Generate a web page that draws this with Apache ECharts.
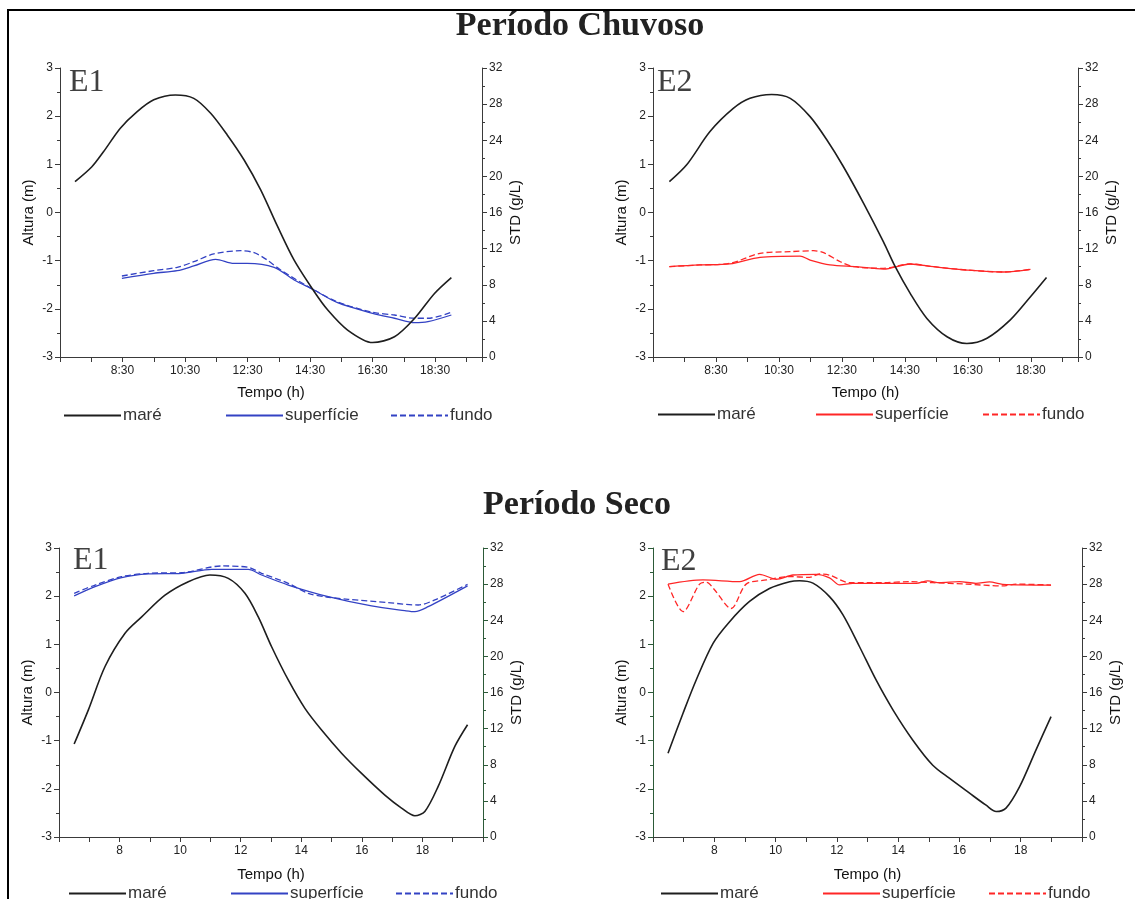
<!DOCTYPE html>
<html><head><meta charset="utf-8">
<script src="https://cdn.jsdelivr.net/npm/echarts@6/dist/echarts.min.js"></script>
<style>html,body{margin:0;padding:0;background:#fff}#c{width:1135px;height:899px}</style>
</head><body><div id="c"></div>
<script>
// ---- Data (time in decimal hours; maré in m; STD in g/L) ----
const mareChuvosoE1 = [[6.98,0.64],[7.52,0.95],[7.89,1.26],[8.43,1.75],[8.96,2.09],[9.5,2.34],[10.19,2.44],[10.78,2.37],[11.32,2.06],[11.85,1.61],[12.39,1.09],[12.92,0.47],[13.46,-0.29],[13.99,-0.99],[14.63,-1.64],[15.06,-2.02],[15.7,-2.44],[16.5,-2.70],[17.2,-2.58],[17.84,-2.20],[18.48,-1.68],[19.02,-1.35]];
const supChuvosoE1 = [[8.48,8.71],[9.5,9.27],[10.25,9.56],[10.78,10.08],[11.48,10.82],[12.06,10.37],[12.49,10.37],[13.35,9.93],[13.99,8.53],[14.63,7.42],[15.38,6.01],[16.5,4.84],[17.2,4.29],[17.84,3.8],[18.27,3.91],[19.02,4.65]];
const fundoChuvosoE1 = [[8.48,8.97],[9.5,9.56],[10.25,9.93],[10.78,10.55],[11.42,11.41],[12.28,11.77],[12.71,11.55],[13.13,10.74],[13.56,9.63],[14.63,7.42],[15.38,6.1],[16.5,4.95],[17.2,4.65],[17.84,4.29],[18.27,4.29],[19.02,4.95]];

const mareChuvosoE2 = [[7.02,0.64],[7.57,0.99],[8.31,1.68],[9.05,2.16],[9.58,2.37],[10.27,2.45],[10.86,2.37],[11.49,1.99],[12.02,1.51],[12.55,0.95],[13.19,0.19],[13.82,-0.61],[14.19,-1.12],[14.67,-1.68],[15.2,-2.2],[15.84,-2.58],[16.47,-2.72],[17.11,-2.61],[17.85,-2.23],[18.49,-1.75],[19.0,-1.35]];
const supChuvosoE2 = [[7.02,10.0],[7.99,10.19],[8.94,10.3],[9.9,11.04],[11.17,11.18],[11.49,10.74],[12.12,10.19],[12.97,10.0],[13.82,9.74],[14.67,10.3],[15.41,10.0],[16.47,9.63],[17.64,9.41],[18.49,9.71]];
const fundoChuvosoE2 = [[7.02,10.0],[7.99,10.19],[8.94,10.37],[9.9,11.48],[10.85,11.66],[11.6,11.77],[11.92,11.55],[12.45,10.55],[12.88,10.0],[13.82,9.82],[14.67,10.3],[15.41,10.0],[16.47,9.63],[17.64,9.41],[18.49,9.71]];

const mareSecoE1 = [[6.5,-1.07],[6.97,-0.36],[7.52,0.54],[8.18,1.23],[8.73,1.57],[9.5,2.02],[10.27,2.30],[10.98,2.44],[11.59,2.37],[12.14,2.06],[12.58,1.57],[13.02,0.95],[13.57,0.26],[14.12,-0.33],[14.67,-0.78],[15.33,-1.26],[15.99,-1.68],[16.76,-2.13],[17.31,-2.40],[17.75,-2.56],[18.08,-2.47],[18.52,-1.95],[19.07,-1.12],[19.49,-0.67]];
const supSecoE1 = [[6.5,26.69],[7.19,27.72],[8.07,28.72],[8.95,29.13],[10.05,29.2],[11.04,29.64],[12.25,29.64],[12.69,29.01],[13.57,27.9],[14.89,26.61],[16.32,25.58],[17.42,25.06],[17.75,24.95],[18.19,25.5],[19.49,27.8]];
const fundoSecoE1 = [[6.5,26.98],[7.19,27.9],[8.07,28.83],[8.95,29.2],[10.05,29.27],[11.37,30.01],[12.25,29.86],[12.69,29.2],[13.57,28.09],[14.23,26.98],[14.78,26.61],[15.55,26.32],[16.87,25.95],[17.86,25.69],[18.41,26.25],[19.49,27.98]];

const mareSecoE2 = [[6.49,-1.26],[6.98,-0.43],[7.41,0.26],[7.96,1.02],[8.5,1.47],[9.15,1.89],[9.8,2.16],[10.46,2.30],[10.78,2.32],[11.22,2.27],[11.76,1.99],[12.2,1.61],[12.74,0.95],[13.28,0.26],[13.83,-0.36],[14.48,-0.99],[15.13,-1.51],[15.67,-1.78],[16.33,-2.09],[16.87,-2.34],[17.2,-2.47],[17.52,-2.40],[17.96,-1.96],[18.5,-1.19],[18.99,-0.50]];
const supSecoE2 = [[6.49,28.0],[7.63,28.46],[8.83,28.27],[9.48,29.09],[10.02,28.54],[10.57,29.01],[11.33,29.09],[11.76,28.7],[12.09,27.91],[12.52,28.09],[13.5,28.09],[14.59,28.09],[14.97,28.35],[15.35,28.16],[16.0,28.27],[16.54,28.09],[16.98,28.24],[17.41,27.98],[18.99,27.9]];
const fundoSecoE2 = [[6.49,28.0],[6.98,24.95],[7.52,28.0],[7.75,28.2],[8.0,27.4],[8.55,25.3],[9.04,28.0],[9.7,28.46],[10.46,28.83],[11.11,28.75],[11.43,29.12],[11.76,29.0],[12.41,28.16],[13.5,28.16],[14.37,28.27],[15.13,28.16],[16.22,28.0],[17.41,27.8],[17.85,28.0],[18.99,27.9]];

const chuvosoTickHours = [8.5,10.5,12.5,14.5,16.5,18.5];
const chuvosoTickLabels = ['8:30','10:30','12:30','14:30','16:30','18:30'];
const secoTickHours = [8,10,12,14,16,18];
const secoTickLabels = ['8','10','12','14','16','18'];
const legendNames = ['maré','superfície','fundo'];
const panelLabels = ['E1','E2','E1','E2'];
const periodTitles = ['Período Chuvoso','Período Seco'];

// ---- Chart ----
const CHUVOSO_ORIGIN = 6.5; // top panels: axis counts hours from 6:30
const chart = echarts.init(document.getElementById('c'), null, {renderer:'canvas'});
const FONT = 'Liberation Sans, Arial, sans-serif';
const BLUE = '#3342c4', RED = '#ff2626', BLACK = '#1e1e1e';
const GREEN = '#2c5a38', AXIS = '#3a3a3a';

const grids = [
  {left:60, top:68, width:422, height:289},
  {left:653, top:68, width:425, height:289},
  {left:59, top:548, width:424, height:289},
  {left:653, top:548, width:429, height:289}
].map(g => Object.assign({outerBoundsMode:'none', containLabel:false}, g));

function xAxisFor(i){
  const top = i < 2;
  return {
    type:'value', gridIndex:i,
    min: top ? 0 : 6, max: top ? 13.5 : 20, interval:1,
    axisLine:{show:true, onZero:false, lineStyle:{color:AXIS, width:1}},
    axisTick:{show:true, length:5, lineStyle:{color:AXIS}},
    splitLine:{show:false},
    axisLabel:{fontSize:12, color:'#222', fontFamily:FONT, margin:8, showMinLabel:true, showMaxLabel:true,
      formatter: v => {
        if (top) { const k = chuvosoTickHours.indexOf(Math.round((v + CHUVOSO_ORIGIN)*100)/100); return k >= 0 ? chuvosoTickLabels[k] : ''; }
        const k = secoTickHours.indexOf(Math.round(v*100)/100); return k >= 0 ? secoTickLabels[k] : '';
      }},
    name:'Tempo (h)', nameLocation:'middle', nameGap: top ? 28 : 30,
    nameTextStyle:{fontSize:15, color:'#111', fontFamily:FONT}
  };
}
function yLeft(i){
  const c = i === 3 ? GREEN : AXIS;
  return {
    type:'value', gridIndex:i, position:'left', min:-3, max:3, interval:1,
    axisLine:{show:true, onZero:false, lineStyle:{color:c, width:1}},
    axisTick:{show:true, length:5, lineStyle:{color:c}},
    minorTick:{show:true, splitNumber:2, length:3, lineStyle:{color:c}},
    splitLine:{show:false}, minorSplitLine:{show:false},
    axisLabel:{fontSize:12, color:'#222', fontFamily:FONT, margin:7},
    name:'Altura (m)', nameLocation:'middle', nameGap:24, nameRotate:90,
    nameTextStyle:{fontSize:15, color:'#111', fontFamily:FONT}
  };
}
function yRight(i){
  const c = i === 2 ? GREEN : AXIS;
  return {
    type:'value', gridIndex:i, position:'right', min:0, max:32, interval:4,
    axisLine:{show:true, onZero:false, lineStyle:{color:c, width:1}},
    axisTick:{show:true, length:5, lineStyle:{color:c}},
    minorTick:{show:true, splitNumber:2, length:3, lineStyle:{color:c}},
    splitLine:{show:false}, minorSplitLine:{show:false},
    axisLabel:{fontSize:12, color:'#222', fontFamily:FONT, margin:7},
    name:'STD (g/L)', nameLocation:'middle', nameGap:26, nameRotate:90,
    nameTextStyle:{fontSize:15, color:'#111', fontFamily:FONT}
  };
}

const panels = [
  {mare:mareChuvosoE1, sup:supChuvosoE1, fundo:fundoChuvosoE1, color:BLUE, shift:CHUVOSO_ORIGIN},
  {mare:mareChuvosoE2, sup:supChuvosoE2, fundo:fundoChuvosoE2, color:RED, shift:CHUVOSO_ORIGIN},
  {mare:mareSecoE1, sup:supSecoE1, fundo:fundoSecoE1, color:BLUE, shift:0},
  {mare:mareSecoE2, sup:supSecoE2, fundo:fundoSecoE2, color:RED, shift:0}
];

const series = [];
panels.forEach((p, i) => {
  const sh = d => d.map(q => [q[0] - p.shift, q[1]]);
  const base = {type:'line', xAxisIndex:i, symbol:'none', showSymbol:false, smooth:0.3, silent:true, animation:false};
  series.push(Object.assign({}, base, {name:legendNames[0]+'#'+i, yAxisIndex:2*i, data:sh(p.mare),
    lineStyle:{color:BLACK, width:1.6}, itemStyle:{color:BLACK}, z:3}));
  series.push(Object.assign({}, base, {name:legendNames[1]+'#'+i, yAxisIndex:2*i+1, data:sh(p.sup),
    lineStyle:{color:p.color, width:1.3}, itemStyle:{color:p.color}, z:2}));
  series.push(Object.assign({}, base, {name:legendNames[2]+'#'+i, yAxisIndex:2*i+1, data:sh(p.fundo),
    lineStyle:{color:p.color, width:1.3, type:[6,3]}, itemStyle:{color:p.color}, z:2}));
});

// one legend entry per item, placed like the original figure
const legendLeft = [[63,225,390],[657,815,982],[68,230,395],[660,822,988]];
const legendTop = [407, 406, 885, 885];
const legends = [];
[0,1,2,3].forEach(i => legendNames.forEach((n, j) => legends.push({
  data: [n + '#' + i],
  left: legendLeft[i][j], top: legendTop[i], orient:'horizontal',
  itemWidth:57, itemHeight:14, itemGap:0, selectedMode:false, padding:0,
  itemStyle:{opacity:0},
  formatter: s => s.split('#')[0],
  textStyle:{fontSize:17, color:'#333', fontFamily:FONT, padding:[0,0,0,-3]}
})));

const labelPos = [[69,83],[657,83],[73,561],[661,562]];
const graphic = [
  {type:'rect', silent:true, shape:{x:8, y:10, width:1300, height:1100}, style:{fill:'none', stroke:'#000', lineWidth:2}},
  {type:'text', silent:true, x:580, y:26, style:{text:periodTitles[0], fill:'#222', font:'bold 34px "Liberation Serif", "Times New Roman", serif', textAlign:'center', textVerticalAlign:'middle'}},
  {type:'text', silent:true, x:577, y:505, style:{text:periodTitles[1], fill:'#222', font:'bold 34px "Liberation Serif", "Times New Roman", serif', textAlign:'center', textVerticalAlign:'middle'}}
].concat(labelPos.map((p, i) => ({type:'text', silent:true, x:p[0], y:p[1], z:10,
  style:{text:panelLabels[i], fill:'#404040', font:'32px "Liberation Serif", "Times New Roman", serif', textAlign:'left', textVerticalAlign:'middle'}})));

chart.setOption({
  backgroundColor:'#fff',
  animation:false,
  grid: grids,
  xAxis: [0,1,2,3].map(xAxisFor),
  yAxis: [0,1,2,3].flatMap(i => [yLeft(i), yRight(i)]),
  legend: legends,
  series: series,
  graphic: graphic
});
</script></body></html>
